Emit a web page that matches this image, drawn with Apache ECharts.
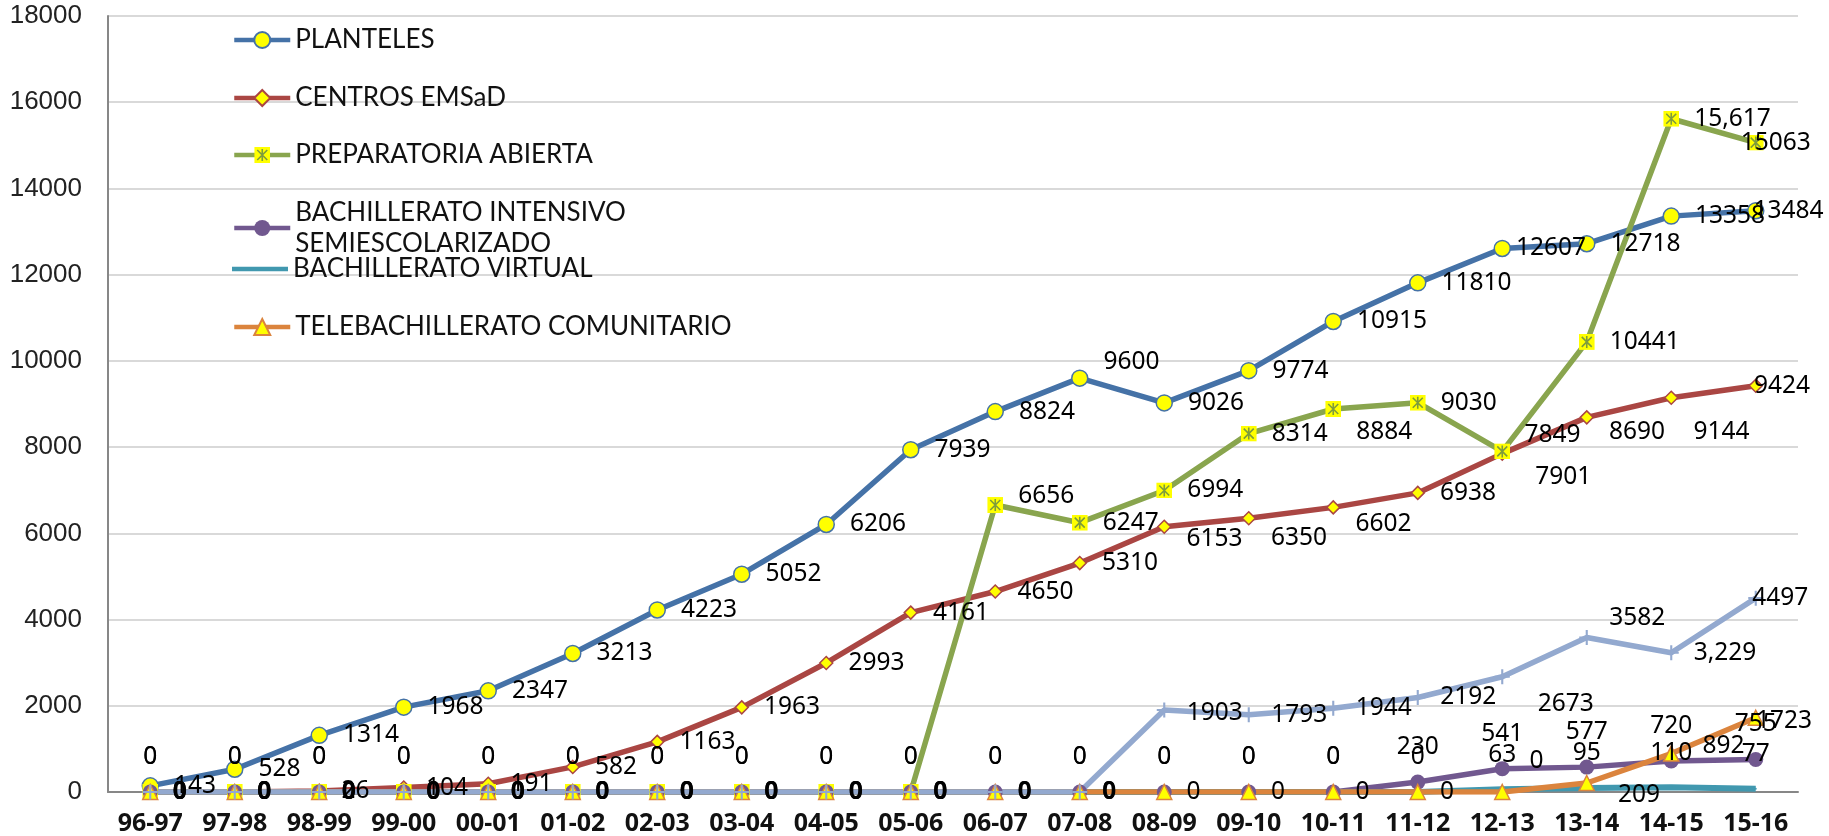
<!DOCTYPE html>
<html>
<head>
<meta charset="utf-8">
<script src="https://cdn.jsdelivr.net/npm/echarts@6/dist/echarts.min.js"></script>
<style>
html,body{margin:0;padding:0;background:#fff;}
#chart{width:1829px;height:836px;}
</style>
</head>
<body>
<div id="chart"></div>
<script>
// ---- data ----
const categories = ['96-97','97-98','98-99','99-00','00-01','01-02','02-03','03-04','04-05','05-06','06-07','07-08','08-09','09-10','10-11','11-12','12-13','13-14','14-15','15-16'];
const planteles = [143,528,1314,1968,2347,3213,4223,5052,6206,7939,8824,9600,9026,9774,10915,11810,12607,12718,13358,13484];
const centrosEmsad = [0,0,26,104,191,582,1163,1963,2993,4161,4650,5310,6153,6350,6602,6938,7849,8690,9144,9424];
const preparatoriaAbierta = [0,0,0,0,0,0,0,0,0,0,6656,6247,6994,8314,8884,9030,7901,10441,15617,15063];
const bachIntensivo = [0,0,0,0,0,0,0,0,0,0,0,0,0,0,0,230,541,577,720,755];
const bachVirtual = [0,0,0,0,0,0,0,0,0,0,0,0,0,0,0,0,63,95,110,77];
const telebachillerato = [0,0,0,0,0,0,0,0,0,0,0,0,0,0,0,0,0,209,892,1723];
const serieSinNombre = [0,0,0,0,0,0,0,0,0,0,0,0,1903,1793,1944,2192,2673,3582,3229,4497];
const seriesNames = ['PLANTELES','CENTROS EMSaD','PREPARATORIA ABIERTA','BACHILLERATO INTENSIVO SEMIESCOLARIZADO','BACHILLERATO VIRTUAL','TELEBACHILLERATO COMUNITARIO'];

// ---- styling helpers ----
const LABEL_FONT = 'Noto Sans';
const LABEL_SIZE = 24.5;
const colors = ['#4572A7','#AA4643','#89A54E','#71588F','#4198AF','#DB843D','#93A9CF'];
const greenSvg = "<svg xmlns='http://www.w3.org/2000/svg' width='16' height='16' viewBox='0 0 16 16'><rect x='0' y='0' width='16' height='16' fill='#FFFF00'/><path d='M3 3L13 13M13 3L3 13M8 2V14' stroke='#7E9C3C' stroke-width='1.6' fill='none'/></svg>";
const greenSymbol = 'image://data:image/svg+xml;charset=utf-8,' + encodeURIComponent(greenSvg);
const plusSymbol = 'path://M4.3,0H5.7V4.3H10V5.7H5.7V10H4.3V5.7H0V4.3H4.3Z';

function buildData(values, offsets, boldIdx) {
  offsets = offsets || {}; boldIdx = boldIdx || [];
  return values.map((v, i) => {
    const lab = {};
    if (offsets[i]) lab.offset = offsets[i];
    if (boldIdx.indexOf(i) >= 0) lab.fontWeight = 'bold';
    return Object.keys(lab).length ? {value: v, label: lab} : v;
  });
}
function fmt(commaIdx) {
  commaIdx = commaIdx || [];
  return p => commaIdx.indexOf(p.dataIndex) >= 0 ? Number(p.value).toLocaleString('en-US') : String(p.value);
}
function baseLabel(pos, dist, commaIdx) {
  return {show: true, position: pos, distance: dist, color: '#000', fontFamily: LABEL_FONT, fontSize: LABEL_SIZE, formatter: fmt(commaIdx)};
}
const zeroIdx = (arr, upto) => arr.map((v,i)=>i).filter(i => i <= upto && arr[i] === 0);

const series = [
  {
    name: seriesNames[0], type: 'line', z: 3,
    data: buildData(planteles, {11: [0,-16], 16: [-10,0], 19: [-26,0]}),
    lineStyle: {color: colors[0], width: 5.5},
    itemStyle: {color: '#FFFF00', borderColor: colors[0], borderWidth: 1.5},
    symbol: 'circle', symbolSize: 16,
    label: baseLabel('right', 15)
  },
  {
    name: seriesNames[1], type: 'line', z: 3,
    data: buildData(centrosEmsad, {12: [0,12], 13: [0,20], 14: [0,17], 16: [0,-19], 17: [0,15], 18: [0,34], 19: [-24,0]}),
    lineStyle: {color: colors[1], width: 5.5},
    itemStyle: {color: '#FFFF00', borderColor: colors[1], borderWidth: 1.5},
    symbol: 'diamond', symbolSize: 13,
    label: baseLabel('right', 15)
  },
  {
    name: seriesNames[2], type: 'line', z: 3,
    data: buildData(preparatoriaAbierta, {10: [0,-9], 14: [0,23], 16: [10,26], 19: [-38,0]}),
    lineStyle: {color: colors[2], width: 5.5},
    itemStyle: {color: colors[2]},
    symbol: greenSymbol, symbolSize: 16,
    label: baseLabel('right', 15, [18])
  },
  {
    name: seriesNames[3], type: 'line', z: 3,
    data: buildData(bachIntensivo),
    lineStyle: {color: colors[3], width: 5.5},
    itemStyle: {color: colors[3]},
    symbol: 'circle', symbolSize: 15,
    label: baseLabel('top', 15)
  },
  {
    name: seriesNames[4], type: 'line', z: 3,
    data: buildData(bachVirtual),
    lineStyle: {color: colors[4], width: 6},
    itemStyle: {color: colors[4]},
    symbol: 'circle', symbolSize: 2,
    label: baseLabel('top', 21)
  },
  {
    name: seriesNames[5], type: 'line', z: 3,
    data: buildData(telebachillerato, {16: [5,-31], 17: [9,12], 18: [9,-8], 19: [-22,3]}),
    lineStyle: {color: colors[5], width: 5.5},
    itemStyle: {color: '#FFFF00', borderColor: colors[5], borderWidth: 1.5},
    symbol: 'triangle', symbolSize: 15,
    label: baseLabel('right', 14)
  },
  {
    name: 'Serie 7', type: 'line', z: 3,
    data: buildData(serieSinNombre, {12: [0,3], 16: [13,27], 17: [0,-20], 19: [-26,0]}, zeroIdx(serieSinNombre, 11)),
    lineStyle: {color: colors[6], width: 5.5},
    itemStyle: {color: colors[6]},
    symbol: plusSymbol, symbolSize: 15,
    label: baseLabel('right', 15, [18])
  }
];
series.forEach(s => { s.showAllSymbol = true; s.animation = false; s.emphasis = {disabled: true}; });

const legendCenters = [39, 97, 154, 211, 268, 326];
const legends = seriesNames.map((n, i) => {
  const two = i === 3;
  const item = i === 4 ? {name: n, icon: 'path://M0,0H56V4.5H0Z'} : n;
  return {
    data: [item], orient: 'vertical', left: 227,
    top: two ? legendCenters[i] - 46.5 + 12 : legendCenters[i] - 17,
    itemWidth: 56, itemHeight: 20, itemGap: 0, selectedMode: false,
    lineStyle: {width: 4.5},
    formatter: two ? 'BACHILLERATO INTENSIVO\nSEMIESCOLARIZADO' : '{name}',
    textStyle: Object.assign({color: '#111', fontFamily: 'Lato', fontSize: 26},
      two ? {lineHeight: 31, padding: [31,0,0,0]} : {})
  };
});

const chart = echarts.init(document.getElementById('chart'), null, {renderer: 'canvas'});
chart.setOption({
  animation: false,
  backgroundColor: '#fff',
  grid: {left: 108, right: 31, top: 16, bottom: 40, containLabel: false},
  legend: legends,
  xAxis: {
    type: 'category', data: categories, boundaryGap: true,
    axisTick: {show: false},
    axisLine: {lineStyle: {color: '#878787', width: 2}},
    axisLabel: {color: '#111', fontFamily: 'Noto Sans', fontWeight: 'bold', fontSize: 25, margin: 19, interval: 0}
  },
  yAxis: {
    type: 'value', min: 0, max: 18000, interval: 2000,
    axisLine: {show: true, lineStyle: {color: '#878787', width: 2}},
    axisTick: {show: false},
    splitLine: {lineStyle: {color: '#D9D9D9', width: 2}},
    axisLabel: {color: '#222', fontFamily: "'Liberation Sans Narrow', 'Liberation Sans', sans-serif", fontSize: 26, margin: 26, formatter: v => String(v)}
  },
  series: series
});
</script>
</body>
</html>
